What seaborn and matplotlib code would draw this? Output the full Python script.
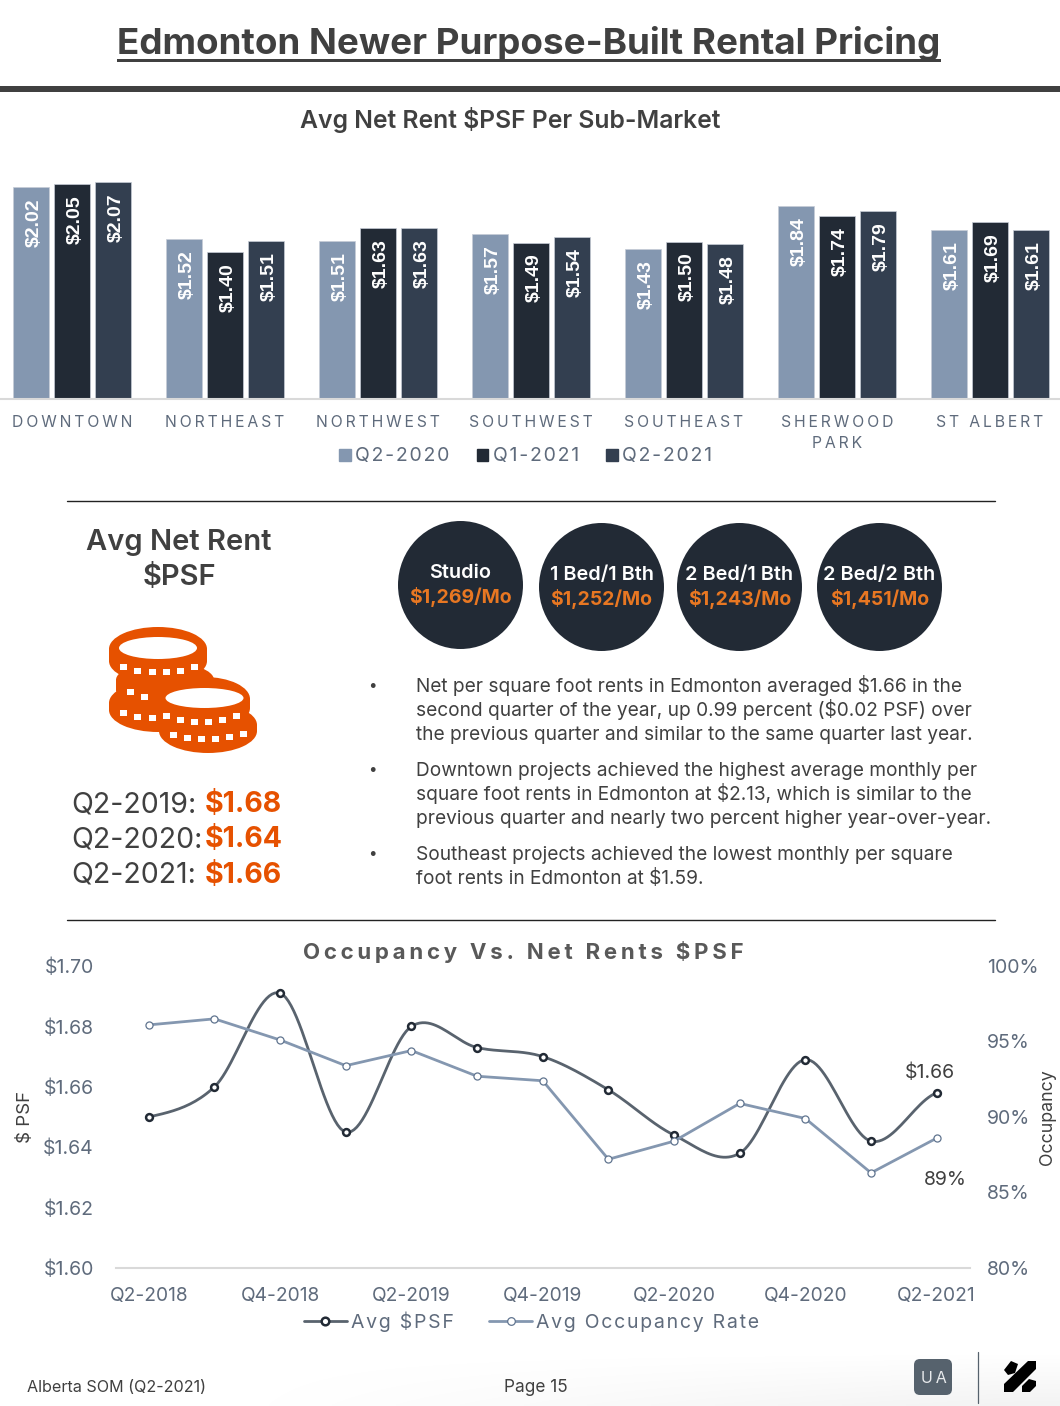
import numpy as np
import pandas as pd
import matplotlib
matplotlib.use("Agg")
import matplotlib.pyplot as plt
from matplotlib.lines import Line2D
from matplotlib.patches import Ellipse, FancyBboxPatch, Polygon, Rectangle
import seaborn as sns

# ---- data ----
MARKETS = ["DOWNTOWN", "NORTHEAST", "NORTHWEST", "SOUTHWEST", "SOUTHEAST", "SHERWOOD\nPARK", "ST ALBERT"]
RENT_Q2_2020 = [2.02, 1.52, 1.51, 1.57, 1.43, 1.84, 1.61]
RENT_Q1_2021 = [2.05, 1.40, 1.63, 1.49, 1.50, 1.74, 1.69]
RENT_Q2_2021 = [2.07, 1.51, 1.63, 1.54, 1.48, 1.79, 1.61]
QUARTER_NAMES = ["Q2-2020", "Q1-2021", "Q2-2021"]

TREND_QUARTERS = ["Q2-2018", "Q3-2018", "Q4-2018", "Q1-2019", "Q2-2019", "Q3-2019", "Q4-2019",
                  "Q1-2020", "Q2-2020", "Q3-2020", "Q4-2020", "Q1-2021", "Q2-2021"]
AVG_PSF = [1.650, 1.660, 1.691, 1.645, 1.680, 1.673, 1.670, 1.659, 1.644, 1.638, 1.669, 1.642, 1.658]
AVG_OCCUPANCY = [96.1, 96.5, 95.1, 93.4, 94.4, 92.7, 92.4, 87.2, 88.4, 90.9, 89.9, 86.3, 88.6]

UNIT_TYPES = ["Studio", "1 Bed/1 Bth", "2 Bed/1 Bth", "2 Bed/2 Bth"]
UNIT_RENTS = ["$1,269/Mo", "$1,252/Mo", "$1,243/Mo", "$1,451/Mo"]
YEAR_LABELS = ["Q2-2019:", "Q2-2020:", "Q2-2021:"]
YEAR_VALUES = ["$1.68", "$1.64", "$1.66"]

BULLETS = [
    ["Net per square foot rents in Edmonton averaged $1.66 in the",
     "second quarter of the year, up 0.99 percent ($0.02 PSF) over",
     "the previous quarter and similar to the same quarter last year."],
    ["Downtown projects achieved the highest average monthly per",
     "square foot rents in Edmonton at $2.13, which is similar to the",
     "previous quarter and nearly two percent higher year-over-year."],
    ["Southeast projects achieved the lowest monthly per square",
     "foot rents in Edmonton at $1.59."],
]

# ---- style ----
LIGHT, NAVY, SLATE = "#8497B0", "#222A35", "#333F50"
INK, AXIS_INK, ORANGE, CIRCLE_ORANGE = "#404040", "#5F6B7C", "#E65100", "#E87722"
W, H = 1060, 1406

sns.set_theme(style="white")
plt.rcParams["font.family"] = ["Inter", "DejaVu Sans"]
plt.rcParams["axes.unicode_minus"] = False


def tracked(text, gap="\u200a"):
    """Open up letter spacing with hair spaces between the characters."""
    return "\n".join(gap.join(line) for line in text.split("\n"))


def smooth(values, per_segment=24):
    """Catmull-Rom curve through the points, used for the smoothed PSF line."""
    p = np.asarray(values, dtype=float)
    padded = np.r_[p[0], p, p[-1]]
    xs, ys = [], []
    for i in range(len(p) - 1):
        p0, p1, p2, p3 = padded[i:i + 4]
        t = np.linspace(0, 1, per_segment, endpoint=False)
        ys.append(0.5 * (2 * p1 + (p2 - p0) * t + (2 * p0 - 5 * p1 + 4 * p2 - p3) * t ** 2
                         + (3 * p1 - p0 - 3 * p2 + p3) * t ** 3))
        xs.append(i + t)
    return np.r_[np.concatenate(xs), len(p) - 1], np.r_[np.concatenate(ys), p[-1]]


fig = plt.figure(figsize=(W / 100, H / 100), dpi=100, facecolor="white")


def axes_px(left, top, right, bottom, **kw):
    return fig.add_axes([left / W, 1 - bottom / H, (right - left) / W, (bottom - top) / H], **kw)


# Page layer in pixel coordinates for headings, rules, callouts and footer.
page = fig.add_axes([0, 0, 1, 1], zorder=-1)
page.set_xlim(0, W)
page.set_ylim(H, 0)
page.axis("off")

xx, yy = np.meshgrid(np.linspace(0, 1, 265), np.linspace(0, 1, 20))
shade = np.clip(xx * 1.3 - 0.25, 0, 1) * np.clip((yy - 0.05) / 0.95, 0, 1) * 0.05
rgba = np.zeros(shade.shape + (4,))
rgba[..., 3] = shade
page.imshow(rgba, extent=(0, W, H, 1346), aspect="auto", zorder=0, interpolation="bilinear")
page.set_xlim(0, W)
page.set_ylim(H, 0)


def put(x, y, s, size, color=INK, weight="normal", ha="center", va="center", **kw):
    return page.text(x, y, s, fontsize=size, color=color, fontweight=weight, ha=ha, va=va, **kw)


put(529, 43.5, "Edmonton Newer Purpose-Built Rental Pricing", 26.5, weight="bold")
page.add_patch(Rectangle((117, 59), 824, 2.6, color=INK, lw=0))
page.add_patch(Rectangle((0, 86), W, 6, color=INK, lw=0))
put(510, 120, "Avg Net Rent $PSF Per Sub-Market", 17.8, weight="semibold")
for y in (500.5, 919.5):
    page.plot([67, 995], [y, y], color="#222222", lw=1.0)

# ---- grouped bars: net rent per sub-market ----
rent_frame = pd.DataFrame({
    "market": MARKETS * 3,
    "quarter": np.repeat(QUARTER_NAMES, len(MARKETS)),
    "rent": RENT_Q2_2020 + RENT_Q1_2021 + RENT_Q2_2021,
})
bars = axes_px(0, 138, W, 398.5, facecolor="none")
sns.barplot(data=rent_frame, x="market", y="rent", hue="quarter", ax=bars,
            palette=[LIGHT, NAVY, SLATE], width=0.804, gap=0.1, saturation=1,
            edgecolor="#C6CCD6", linewidth=0.5, legend=False)
bars.set_xlim(-72 / 153, (W - 72) / 153)
bars.set_ylim(0, 2.49)
bars.set(xlabel="", ylabel="")
bars.set_yticks([])
sns.despine(ax=bars, left=True, top=True, right=True)
bars.spines["bottom"].set_color("#D9D9D9")
bars.spines["bottom"].set_linewidth(1.5)
bars.tick_params(axis="x", length=0, pad=12.2)
bars.set_xticks(range(len(MARKETS)))
bars.set_xticklabels([tracked(m, "\u2009") for m in MARKETS], fontsize=11.35, color=AXIS_INK, linespacing=1.45)
for container, series in zip(bars.containers, (RENT_Q2_2020, RENT_Q1_2021, RENT_Q2_2021)):
    labels = bars.bar_label(container, labels=[f"${v:.2f}" for v in series], label_type="edge", padding=-8,
                            rotation=90, color="white", fontsize=14, fontweight="bold",
                            family=["Liberation Sans"])
    for t in labels:
        t.set_verticalalignment("top")
        t.xyann = (2.7, -8)

bars.legend(handles=[Rectangle((0, 0), 1, 1, color=c) for c in (LIGHT, NAVY, SLATE)],
            labels=[tracked(q, "\u200a") for q in QUARTER_NAMES], ncol=3, frameon=False,
            loc="center", bbox_to_anchor=(526 / W, 1 - 456.5 / H), bbox_transform=fig.transFigure,
            handlelength=0.57, handleheight=0.57, handletextpad=0.25, columnspacing=1.4,
            prop={"size": 14}, labelcolor=AXIS_INK)

# ---- rent callout with coin stack ----
put(179, 542.5, "Avg Net Rent", 21, weight="semibold")
put(179, 577.5, "$PSF", 21, weight="semibold")


def coin(cx, top, bottom, rx, ry, layer, inner=None, dashes=None):
    """One coin: a rounded drum, optional inner face, optional rim notches."""
    page.add_patch(Ellipse((cx, top), 2 * rx, 2 * ry, color=ORANGE, lw=0, zorder=layer))
    page.add_patch(Ellipse((cx, bottom), 2 * rx, 2 * ry, color=ORANGE, lw=0, zorder=layer))
    page.add_patch(Rectangle((cx - rx, top), 2 * rx, bottom - top, color=ORANGE, lw=0, zorder=layer))
    if inner:
        page.add_patch(Ellipse((cx, inner[0]), 2 * inner[1], 2 * inner[2], color="white", lw=0, zorder=layer + 1))
    for px, py in dashes or []:
        page.add_patch(Rectangle((px - 3.5, py - 3), 7, 6, color="white", lw=0, zorder=layer + 1))


# Left stack sits behind the right stack.
coin(158, 703, 710, 49, 22, 2, dashes=[(123, 713), (137, 717), (152, 718)])
coin(165, 680, 690, 49, 18, 2, dashes=[(130, 692), (144, 697)])
coin(158, 649, 661, 49, 22, 2, inner=(648, 39, 11),
     dashes=[(123, 667), (137, 671), (152, 672), (166, 672), (180, 671), (194, 667)])
coin(208, 725, 731, 49, 22, 4, dashes=[(173, 735), (187, 738), (201, 739), (215, 739), (229, 737), (243, 734)])
coin(204.5, 699, 708, 45.5, 22, 4, inner=(698, 39, 10),
     dashes=[(166, 716), (180, 720), (194, 722), (208, 722), (222, 720), (236, 716)])

for y, name, value in zip((812, 847.5, 883), YEAR_LABELS, YEAR_VALUES):
    put(71, y, name, 20.5, ha="left", va="baseline")
    put(205, y, value, 20.5, color=ORANGE, weight="bold", ha="left", va="baseline")

# ---- unit-type circles ----
for x0, y0, unit, rent in zip((398, 539, 677, 817), (521, 523, 523, 523), UNIT_TYPES, UNIT_RENTS):
    cx, cy = x0 + 62.5, y0 + 64
    page.add_patch(Ellipse((cx, cy), 125, 128, color=NAVY, lw=0))
    put(cx, y0 + 57.5, unit, 14.3, color="white", weight="semibold", va="baseline")
    put(cx, y0 + 82, rent, 14, color=CIRCLE_ORANGE, weight="bold", va="baseline")

# ---- commentary ----
for baseline, lines in zip((692, 776, 860.5), BULLETS):
    put(372, baseline - 7, "\u2022", 11, ha="center", color=INK)
    for i, line in enumerate(lines):
        put(416, baseline + 24 * i, line, 13.75, ha="left", va="baseline")

# ---- PSF vs occupancy trend ----
put(523, 952, tracked("Occupancy Vs. Net Rents $PSF", "\u2006"), 16, color="#595959", weight="bold")

trend = axes_px(116, 966, 969.5, 1268, facecolor="none")
curve_x, curve_y = smooth(AVG_PSF)
sns.lineplot(x=curve_x, y=curve_y, ax=trend, color="#59636E", lw=2.0, sort=False, estimator=None)
positions = np.arange(len(TREND_QUARTERS))
sns.scatterplot(x=positions, y=AVG_PSF, ax=trend, s=24, facecolor="white", edgecolor=NAVY, linewidth=1.8, zorder=5)
trend.set_xlim(-0.5, 12.5)
trend.set_ylim(1.60, 1.70)
trend.set_yticks(np.arange(1.60, 1.701, 0.02))
trend.set_yticklabels([f"${v:.2f}" for v in np.arange(1.60, 1.701, 0.02)])
trend.set_xticks(positions[::2])
trend.set_xticklabels(TREND_QUARTERS[::2])
trend.set_xlabel("")
trend.set_ylabel("$ PSF", fontsize=13.5, color=INK, labelpad=6.5)
trend.tick_params(axis="y", length=0, pad=16, labelsize=14, labelcolor=AXIS_INK)
trend.tick_params(axis="x", length=0, pad=13.7, labelsize=13.8, labelcolor=AXIS_INK)
for side in ("top", "left", "right"):
    trend.spines[side].set_visible(False)
trend.spines["bottom"].set_color("#D9D9D9")
trend.spines["bottom"].set_linewidth(1.5)
trend.annotate(f"${AVG_PSF[-1]:.2f}", (12, AVG_PSF[-1]), xytext=(-5, 8), textcoords="offset points",
               ha="center", va="bottom", fontsize=14, color=INK)

occupancy = trend.twinx()
occupancy.set_facecolor("none")
sns.lineplot(x=positions, y=AVG_OCCUPANCY, ax=occupancy, color=LIGHT, lw=2.0, sort=False, estimator=None)
sns.scatterplot(x=positions, y=AVG_OCCUPANCY, ax=occupancy, s=26, facecolor="white", edgecolor="#60748F",
                linewidth=0.9, zorder=5)
occupancy.set_ylim(80, 100)
occupancy.set_yticks(np.arange(80, 101, 5))
occupancy.set_yticklabels([f"{v}%" for v in range(80, 101, 5)])
occupancy.set_ylabel("Occupancy", fontsize=12.8, color=INK, labelpad=0)
occupancy.tick_params(axis="y", length=0, pad=12.8, labelsize=14, labelcolor=AXIS_INK)
for side in ("top", "left", "right", "bottom"):
    occupancy.spines[side].set_visible(False)
occupancy.annotate(f"{AVG_OCCUPANCY[-1]:.0f}%", (12, AVG_OCCUPANCY[-1]), xytext=(6, -24), textcoords="offset points",
                   ha="center", va="top", fontsize=14, color=INK)

legend_handles = [
    Line2D([], [], color="#59636E", lw=2.0, marker="o", ms=5.5, mfc="white", mec=NAVY, mew=1.8),
    Line2D([], [], color=LIGHT, lw=2.0, marker="o", ms=5.5, mfc="white", mec="#60748F", mew=0.9),
]
occupancy.legend(handles=legend_handles,
                 labels=[tracked("Avg $PSF", "\u200a"), tracked("Avg Occupancy Rate", "\u200a")],
                 ncol=2, frameon=False, loc="center", bbox_to_anchor=(531.5 / W, 1 - 1322 / H),
                 bbox_transform=fig.transFigure, handlelength=2.2, handletextpad=0.2, columnspacing=1.85,
                 prop={"size": 14}, labelcolor=AXIS_INK)

# ---- footer ----
put(27, 1387, "Alberta SOM (Q2-2021)", 11.6, ha="left")
put(536, 1387, "Page 15", 12.4)
page.add_patch(FancyBboxPatch((917, 1362), 32, 30, boxstyle="round,pad=3,rounding_size=6", color="#56626D", lw=0))
put(933.5, 1378.5, tracked("UA", "\u2009"), 11.5, color="#E8EAEC")
page.plot([978, 978], [1352, 1403], color="#56626D", lw=0.9)
for poly in ([(1004, 1370), (1011, 1361), (1018, 1364), (1015, 1373), (1008, 1375)],
             [(1028, 1361), (1036, 1361), (1036, 1369), (1013, 1392), (1004, 1392), (1004, 1384)],
             [(1022, 1386), (1029, 1379), (1036, 1381), (1036, 1386), (1030, 1392), (1022, 1392)]):
    page.add_patch(Polygon(poly, closed=True, color="black", lw=0))

fig.savefig("out.png", dpi=100)
